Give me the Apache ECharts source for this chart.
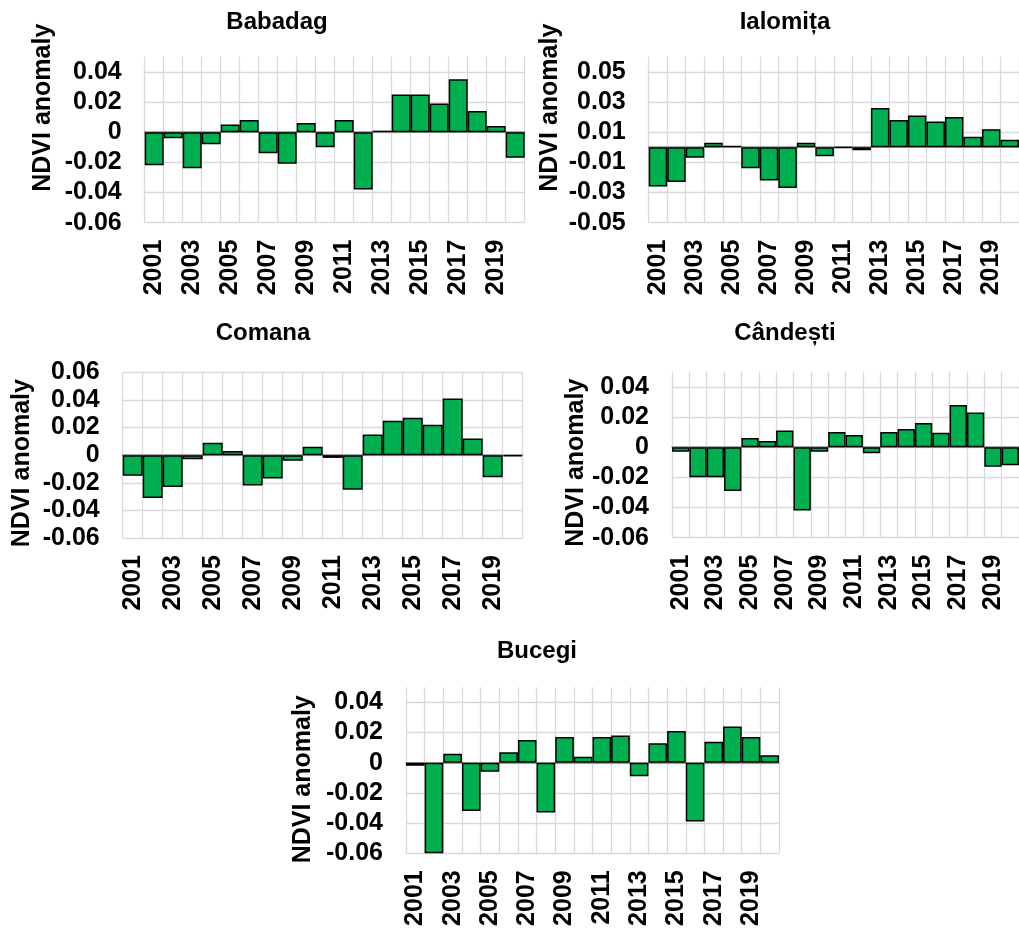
<!DOCTYPE html>
<html>
<head>
<meta charset="utf-8">
<script src="https://cdn.jsdelivr.net/npm/echarts@6/dist/echarts.min.js"></script>
<style>
html,body{margin:0;padding:0;background:#fff;}
#chart{width:1019px;height:930px;}
</style>
</head>
<body>
<div id="chart"></div>
<script>
const years = ['2001','2002','2003','2004','2005','2006','2007','2008','2009','2010','2011','2012','2013','2014','2015','2016','2017','2018','2019','2020'];
const panelTitles = ['Babadag', 'Ialomița', 'Comana', 'Cândești', 'Bucegi'];
const yAxisTitle = 'NDVI anomaly';
const babadag = [-0.022,-0.004,-0.024,-0.008,0.005,0.008,-0.014,-0.021,0.006,-0.010,0.008,-0.038,0.001,0.025,0.025,0.019,0.035,0.014,0.004,-0.017];
const ialomita = [-0.026,-0.023,-0.007,0.003,0.001,-0.014,-0.022,-0.027,0.003,-0.006,-0.0005,-0.002,0.026,0.018,0.021,0.017,0.020,0.007,0.012,0.005];
const comana = [-0.015,-0.031,-0.023,-0.003,0.009,0.003,-0.022,-0.017,-0.004,0.006,-0.002,-0.025,0.015,0.025,0.027,0.022,0.041,0.012,-0.016,-0.001];
const candesti = [-0.003,-0.020,-0.020,-0.029,0.006,0.004,0.011,-0.042,-0.003,0.010,0.008,-0.004,0.010,0.012,0.016,0.0095,0.028,0.023,-0.013,-0.012];
const bucegi = [-0.002,-0.060,0.006,-0.032,-0.006,0.007,0.015,-0.033,0.017,0.004,0.017,0.018,-0.009,0.013,0.021,-0.039,0.014,0.024,0.017,0.005];
// y-axis ranges per panel [min, max, interval]
const yRanges = [[-0.06,0.05,0.02],[-0.05,0.06,0.02],[-0.06,0.06,0.02],[-0.06,0.05,0.02],[-0.06,0.05,0.02]];

const seriesData = [babadag, ialomita, comana, candesti, bucegi];
const FONT = '"Liberation Sans", Arial, sans-serif';
const layouts = [
  {left:144.7, top:56.7, width:380, height:166, tx:277, ty:10, gap:89, pad:[0,0,0,64]},
  {left:648.7, top:56.7, width:373.3, height:166, tx:785, ty:10, gap:86, pad:[0,0,0,64]},
  {left:122.7, top:372.3, width:400, height:165.7, tx:263, ty:321, gap:88, pad:[0,16,0,0]},
  {left:672, top:371.7, width:350.7, height:166, tx:785, ty:321, gap:78, pad:[0,16,0,0]},
  {left:406, top:687.3, width:373, height:166, tx:537, ty:639, gap:90, pad:[0,18,0,0]}
];

const option = {animation:false, backgroundColor:'#fff', title:[], grid:[], xAxis:[], yAxis:[], series:[]};
layouts.forEach((L,i)=>{
  const r = yRanges[i];
  const fullTop = (i === 2);
  option.title.push({text:panelTitles[i], left:L.tx, top:L.ty, textAlign:'center', padding:0,
    textStyle:{fontFamily:FONT, fontWeight:'bold', fontSize:24, color:'#000'}});
  option.grid.push({left:L.left, top:L.top, width:L.width, height:L.height, containLabel:false});
  option.xAxis.push({type:'category', gridIndex:i, data:years, boundaryGap:true,
    axisLine:{show:true, onZero:true, lineStyle:{color:'#8c8c8c', width:1.5}},
    axisTick:{show:false, interval:0},
    axisLabel:{interval:1, rotate:90, margin:17, fontFamily:FONT, fontWeight:'bold', fontSize:25, color:'#000'},
    splitLine:{show:true, interval:0, lineStyle:{color:'#d9d9d9', width:1.3}}
  });
  option.yAxis.push({type:'value', gridIndex:i, min:r[0], max:r[1], interval:r[2],
    name:yAxisTitle, nameLocation:'middle', nameGap:L.gap,
    nameTextStyle:{fontFamily:FONT, fontWeight:'bold', fontSize:25, color:'#000', padding:L.pad},
    axisLine:{show:false}, axisTick:{show:false},
    axisLabel:{margin:23, showMaxLabel: fullTop, fontFamily:FONT, fontWeight:'bold', fontSize:25, color:'#000'},
    splitLine:{show:true, showMaxLine: fullTop, lineStyle:{color:'#d9d9d9', width:1.3}}
  });
  option.series.push({type:'bar', xAxisIndex:i, yAxisIndex:i, data:seriesData[i],
    barCategoryGap:'0%', itemStyle:{color:'#00b050', borderColor:'#000', borderWidth:1.5}});
});
const chart = echarts.init(document.getElementById('chart'));
chart.setOption(option);
</script>
</body>
</html>
